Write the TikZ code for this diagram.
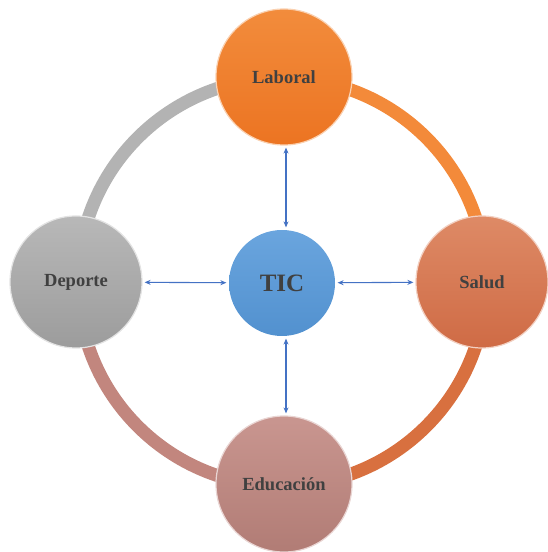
\documentclass[tikz,border=0pt]{standalone}
\usepackage{fontspec}
\setmainfont{Liberation Serif}
\usetikzlibrary{arrows.meta}
\definecolor{txt}{HTML}{404040}
\definecolor{orangeA}{HTML}{F28C3C}
\definecolor{orangeB}{HTML}{EC7422}
\definecolor{blueA}{HTML}{6AA5DE}
\definecolor{blueB}{HTML}{5291CF}
\definecolor{grayA}{HTML}{B8B8B8}
\definecolor{grayB}{HTML}{9C9C9C}
\definecolor{salA}{HTML}{DE8A66}
\definecolor{salB}{HTML}{CF6B45}
\definecolor{eduA}{HTML}{C99690}
\definecolor{eduB}{HTML}{B17C75}
\definecolor{arrowblue}{HTML}{4472C4}
\definecolor{ringGray}{HTML}{B3B3B3}
\definecolor{ringOrange}{HTML}{F38A3A}
\definecolor{ringSalud}{HTML}{D8703F}
\definecolor{ringEdu}{HTML}{C2867E}
\begin{document}
\begin{tikzpicture}[x=1pt,y=1pt,
  bubble/.style={circle, inner sep=0pt, text=txt, font=\bfseries\fontsize{18.5}{20}\selectfont, line width=1.2pt},
  ringseg/.style={line width=13pt},
  link/.style={{Stealth[length=6pt,width=5pt]}-{Stealth[length=6pt,width=5pt]}, arrowblue, line width=1.1pt, shorten >=2pt, shorten <=2pt}]
\useasboundingbox (0,0) rectangle (547,552);
\coordinate (ctr) at (282,270);
% ring segments
\draw[ringseg, ringGray] (ctr) ++(90:204) arc[start angle=90, end angle=180, radius=204];
\draw[ringseg, ringOrange] (ctr) ++(0:204) arc[start angle=0, end angle=90, radius=204];
\draw[ringseg, ringSalud] (ctr) ++(-90:204) arc[start angle=-90, end angle=0, radius=204];
\draw[ringseg, ringEdu] (ctr) ++(180:204) arc[start angle=180, end angle=270, radius=204];
% circles
\node[bubble, minimum size=136pt, top color=orangeA, bottom color=orangeB, draw=orangeA!40!white] (lab) at (284,475) {Laboral};
\node[bubble, minimum size=106pt, top color=blueA, bottom color=blueB, font=\bfseries\fontsize{25}{28}\selectfont] (tic) at (282,269) {TIC};
\node[bubble, minimum size=132pt, top color=grayA, bottom color=grayB, draw=grayA!40!white] (dep) at (76,270) {Deporte};
\node[bubble, minimum size=132pt, top color=salA, bottom color=salB, draw=salA!40!white] (sal) at (482,270) {Salud};
\node[bubble, minimum size=136pt, top color=eduA, bottom color=eduB, draw=eduA!40!white] (edu) at (284,68) {Educación};
% arrows
\draw[link] (lab.south -| 286,0) -- (tic.north -| 286,0);
\draw[link] (dep) -- (tic);
\draw[link] (tic) -- (sal);
\draw[link] (tic.south -| 286,0) -- (edu.north -| 286,0);
\end{tikzpicture}
\end{document}
